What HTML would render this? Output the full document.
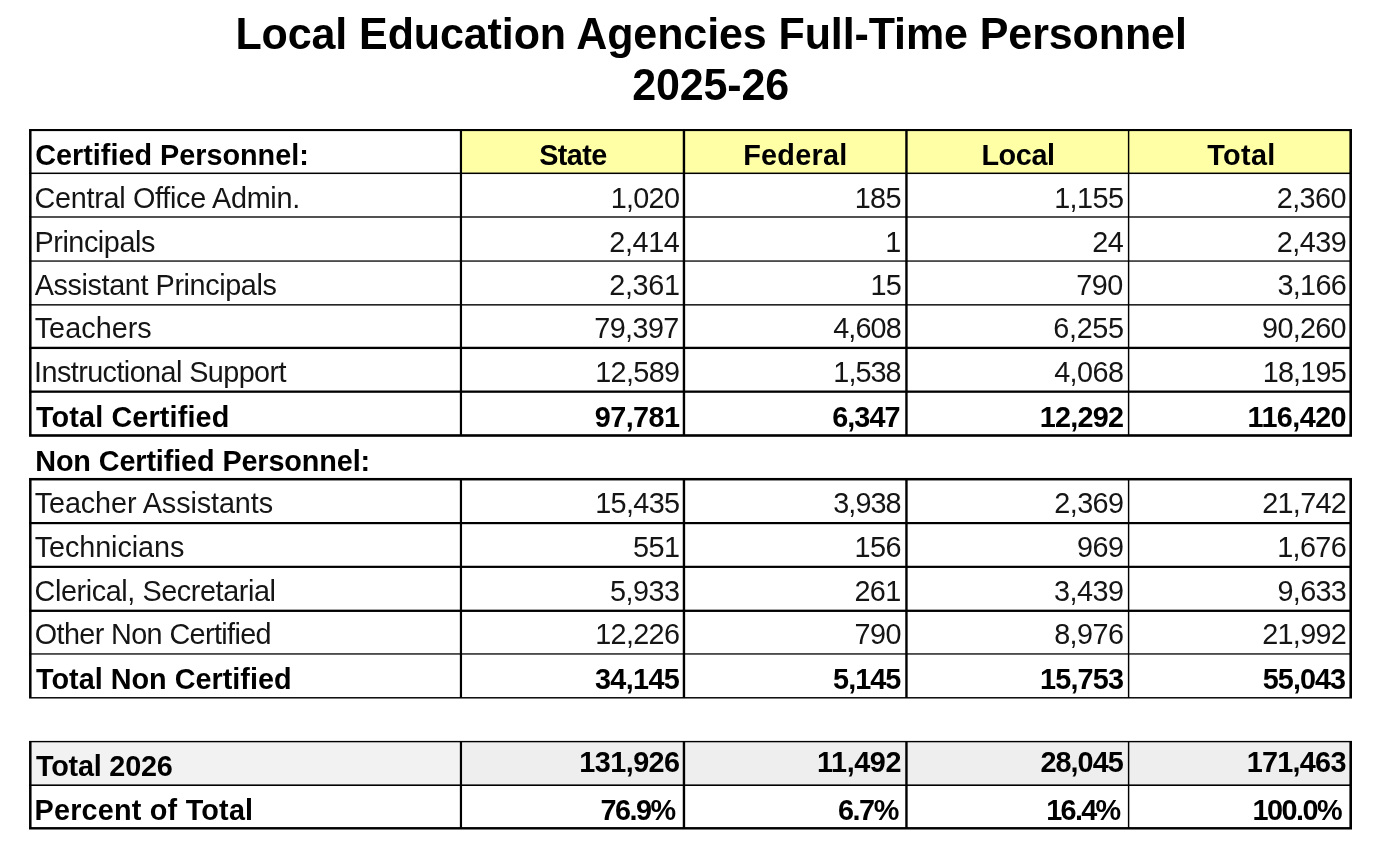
<!DOCTYPE html>
<html lang="en">
<head>
<meta charset="utf-8">
<title>Local Education Agencies Full-Time Personnel 2025-26</title>
<style>
html,body{margin:0;padding:0;background:#fff;}
body{width:1386px;height:844px;position:relative;overflow:hidden;font-family:"Liberation Sans",Arial,Helvetica,sans-serif;color:#000;}
svg{position:absolute;left:0;top:0;}
.t{position:absolute;line-height:1;white-space:nowrap;display:block;transform:scaleY(1.04) translateZ(0);transform-origin:0 84.65%;}
</style>
</head>
<body>
<svg width="1386" height="844" viewBox="0 0 1386 844">
<rect x="460.95" y="130.05" width="889.75" height="43.25" fill="#FFFFA6"/>
<rect x="30.30" y="741.60" width="430.65" height="43.60" fill="#F2F2F2"/>
<rect x="460.95" y="741.60" width="889.75" height="43.60" fill="#EEEEEE"/>
<rect x="29.05" y="129.00" width="1322.95" height="2.10" fill="#000"/>
<rect x="29.05" y="172.55" width="1322.95" height="1.50" fill="#000"/>
<rect x="29.05" y="216.32" width="1322.95" height="1.35" fill="#000"/>
<rect x="29.05" y="260.40" width="1322.95" height="1.30" fill="#000"/>
<rect x="29.05" y="304.15" width="1322.95" height="1.40" fill="#000"/>
<rect x="29.05" y="346.75" width="1322.95" height="2.30" fill="#000"/>
<rect x="29.05" y="390.50" width="1322.95" height="2.30" fill="#000"/>
<rect x="29.05" y="434.20" width="1322.95" height="2.60" fill="#000"/>
<rect x="29.05" y="130.05" width="2.50" height="305.45" fill="#000"/>
<rect x="459.85" y="130.05" width="2.20" height="305.45" fill="#000"/>
<rect x="682.75" y="130.05" width="2.40" height="305.45" fill="#000"/>
<rect x="905.25" y="130.05" width="2.40" height="305.45" fill="#000"/>
<rect x="1127.88" y="130.05" width="1.45" height="305.45" fill="#000"/>
<rect x="1349.40" y="130.05" width="2.60" height="305.45" fill="#000"/>
<rect x="29.05" y="477.95" width="1322.95" height="2.50" fill="#000"/>
<rect x="29.05" y="522.00" width="1322.95" height="2.20" fill="#000"/>
<rect x="29.05" y="565.75" width="1322.95" height="2.20" fill="#000"/>
<rect x="29.05" y="609.65" width="1322.95" height="2.30" fill="#000"/>
<rect x="29.05" y="653.30" width="1322.95" height="1.30" fill="#000"/>
<rect x="29.05" y="697.07" width="1322.95" height="1.45" fill="#000"/>
<rect x="29.05" y="479.20" width="2.50" height="218.60" fill="#000"/>
<rect x="459.85" y="479.20" width="2.20" height="218.60" fill="#000"/>
<rect x="682.75" y="479.20" width="2.40" height="218.60" fill="#000"/>
<rect x="905.25" y="479.20" width="2.40" height="218.60" fill="#000"/>
<rect x="1127.88" y="479.20" width="1.45" height="218.60" fill="#000"/>
<rect x="1349.40" y="479.20" width="2.60" height="218.60" fill="#000"/>
<rect x="29.05" y="740.90" width="1322.95" height="1.40" fill="#000"/>
<rect x="29.05" y="784.40" width="1322.95" height="1.60" fill="#000"/>
<rect x="29.05" y="827.07" width="1322.95" height="2.45" fill="#000"/>
<rect x="29.05" y="741.60" width="2.50" height="86.70" fill="#000"/>
<rect x="459.85" y="741.60" width="2.20" height="86.70" fill="#000"/>
<rect x="682.75" y="741.60" width="2.40" height="86.70" fill="#000"/>
<rect x="905.25" y="741.60" width="2.40" height="86.70" fill="#000"/>
<rect x="1127.88" y="741.60" width="1.45" height="86.70" fill="#000"/>
<rect x="1349.40" y="741.60" width="2.60" height="86.70" fill="#000"/>
</svg>
<span class="t" id="t1" style="font-size:43px;font-weight:bold;letter-spacing:-0.100px;top:13.00px;left:11.08px;width:1400px;text-align:center;">Local Education Agencies Full-Time Personnel</span>
<span class="t" id="t2" style="font-size:43px;font-weight:bold;letter-spacing:-0.167px;top:64.00px;left:10.62px;width:1400px;text-align:center;">2025-26</span>
<span class="t" id="L0" style="font-size:28.8px;font-weight:bold;letter-spacing:-0.007px;top:141.00px;left:35.29px;">Certified Personnel:</span>
<span class="t" id="H0" style="font-size:28.8px;font-weight:bold;letter-spacing:-0.595px;top:141.00px;left:-127.14px;width:1400px;text-align:center;">State</span>
<span class="t" id="H1" style="font-size:28.8px;font-weight:bold;letter-spacing:0.267px;top:141.00px;left:95.38px;width:1400px;text-align:center;">Federal</span>
<span class="t" id="H2" style="font-size:28.8px;font-weight:bold;letter-spacing:-0.374px;top:141.00px;left:318.05px;width:1400px;text-align:center;">Local</span>
<span class="t" id="H3" style="font-size:28.8px;font-weight:bold;letter-spacing:0.333px;top:141.00px;left:541.48px;width:1400px;text-align:center;">Total</span>
<span class="t" id="L1" style="font-size:28.8px;color:#151515;letter-spacing:-0.302px;top:184.00px;left:34.61px;">Central Office Admin.</span>
<span class="t" id="N1_0" style="font-size:28.8px;color:#151515;letter-spacing:-0.745px;top:184.00px;right:706.83px;">1,020</span>
<span class="t" id="N1_1" style="font-size:28.8px;color:#151515;letter-spacing:-0.550px;top:184.00px;right:484.95px;">185</span>
<span class="t" id="N1_2" style="font-size:28.8px;color:#151515;letter-spacing:-0.551px;top:184.00px;right:262.55px;">1,155</span>
<span class="t" id="N1_3" style="font-size:28.8px;color:#151515;letter-spacing:-0.575px;top:184.00px;right:40.07px;">2,360</span>
<span class="t" id="L2" style="font-size:28.8px;color:#151515;letter-spacing:-0.444px;top:228.00px;left:34.48px;">Principals</span>
<span class="t" id="N2_0" style="font-size:28.8px;color:#151515;letter-spacing:-0.403px;top:228.00px;right:706.64px;">2,414</span>
<span class="t" id="N2_1" style="font-size:28.8px;color:#151515;letter-spacing:-0.550px;top:228.00px;right:485.20px;">1</span>
<span class="t" id="N2_2" style="font-size:28.8px;color:#151515;letter-spacing:-0.550px;top:228.00px;right:262.72px;">24</span>
<span class="t" id="N2_3" style="font-size:28.8px;color:#151515;letter-spacing:-0.529px;top:228.00px;right:39.84px;">2,439</span>
<span class="t" id="L3" style="font-size:28.8px;color:#151515;letter-spacing:-0.401px;top:271.00px;left:34.80px;">Assistant Principals</span>
<span class="t" id="N3_0" style="font-size:28.8px;color:#151515;letter-spacing:-0.356px;top:271.00px;right:706.41px;">2,361</span>
<span class="t" id="N3_1" style="font-size:28.8px;color:#151515;letter-spacing:-0.550px;top:271.00px;right:484.66px;">15</span>
<span class="t" id="N3_2" style="font-size:28.8px;color:#151515;letter-spacing:-0.550px;top:271.00px;right:263.39px;">790</span>
<span class="t" id="N3_3" style="font-size:28.8px;color:#151515;letter-spacing:-0.707px;top:271.00px;right:39.98px;">3,166</span>
<span class="t" id="L4" style="font-size:28.8px;color:#151515;letter-spacing:0.033px;top:314.00px;left:34.70px;">Teachers</span>
<span class="t" id="N4_0" style="font-size:28.8px;color:#151515;letter-spacing:-0.609px;top:314.00px;right:707.28px;">79,397</span>
<span class="t" id="N4_1" style="font-size:28.8px;color:#151515;letter-spacing:-0.867px;top:314.00px;right:485.15px;">4,608</span>
<span class="t" id="N4_2" style="font-size:28.8px;color:#151515;letter-spacing:-0.354px;top:314.00px;right:262.35px;">6,255</span>
<span class="t" id="N4_3" style="font-size:28.8px;color:#151515;letter-spacing:-0.744px;top:314.00px;right:40.28px;">90,260</span>
<span class="t" id="L5" style="font-size:28.8px;color:#151515;letter-spacing:-0.582px;top:358.00px;left:34.08px;">Instructional Support</span>
<span class="t" id="N5_0" style="font-size:28.8px;color:#151515;letter-spacing:-0.664px;top:358.00px;right:706.66px;">12,589</span>
<span class="t" id="N5_1" style="font-size:28.8px;color:#151515;letter-spacing:-0.950px;top:358.00px;right:485.37px;">1,538</span>
<span class="t" id="N5_2" style="font-size:28.8px;color:#151515;letter-spacing:-0.547px;top:358.00px;right:262.55px;">4,068</span>
<span class="t" id="N5_3" style="font-size:28.8px;color:#151515;letter-spacing:-0.822px;top:358.00px;right:40.11px;">18,195</span>
<span class="t" id="L6" style="font-size:28.8px;font-weight:bold;letter-spacing:0.131px;top:403.00px;left:35.98px;">Total Certified</span>
<span class="t" id="N6_0" style="font-size:28.8px;font-weight:bold;letter-spacing:-0.587px;top:403.00px;right:706.64px;">97,781</span>
<span class="t" id="N6_1" style="font-size:28.8px;font-weight:bold;letter-spacing:-0.950px;top:403.00px;right:486.48px;">6,347</span>
<span class="t" id="N6_2" style="font-size:28.8px;font-weight:bold;letter-spacing:-0.768px;top:403.00px;right:262.77px;">12,292</span>
<span class="t" id="N6_3" style="font-size:28.8px;font-weight:bold;letter-spacing:-0.567px;top:403.00px;right:39.95px;">116,420</span>
<span class="t" id="L7" style="font-size:28.8px;font-weight:bold;letter-spacing:-0.115px;top:447.00px;left:35.21px;">Non Certified Personnel:</span>
<span class="t" id="L8" style="font-size:28.8px;color:#151515;letter-spacing:-0.102px;top:489.00px;left:34.70px;">Teacher Assistants</span>
<span class="t" id="N8_0" style="font-size:28.8px;color:#151515;letter-spacing:-0.649px;top:489.00px;right:706.57px;">15,435</span>
<span class="t" id="N8_1" style="font-size:28.8px;color:#151515;letter-spacing:-0.941px;top:489.00px;right:485.36px;">3,938</span>
<span class="t" id="N8_2" style="font-size:28.8px;color:#151515;letter-spacing:-0.606px;top:489.00px;right:262.61px;">2,369</span>
<span class="t" id="N8_3" style="font-size:28.8px;color:#151515;letter-spacing:-0.696px;top:489.00px;right:39.91px;">21,742</span>
<span class="t" id="L9" style="font-size:28.8px;color:#151515;letter-spacing:-0.083px;top:533.00px;left:34.70px;">Technicians</span>
<span class="t" id="N9_0" style="font-size:28.8px;color:#151515;letter-spacing:-0.550px;top:533.00px;right:706.60px;">551</span>
<span class="t" id="N9_1" style="font-size:28.8px;color:#151515;letter-spacing:-0.550px;top:533.00px;right:485.06px;">156</span>
<span class="t" id="N9_2" style="font-size:28.8px;color:#151515;letter-spacing:-0.550px;top:533.00px;right:262.55px;">969</span>
<span class="t" id="N9_3" style="font-size:28.8px;color:#151515;letter-spacing:-0.637px;top:533.00px;right:39.91px;">1,676</span>
<span class="t" id="L10" style="font-size:28.8px;color:#151515;letter-spacing:-0.417px;top:577.00px;left:34.61px;">Clerical, Secretarial</span>
<span class="t" id="N10_0" style="font-size:28.8px;color:#151515;letter-spacing:-0.517px;top:577.00px;right:706.57px;">5,933</span>
<span class="t" id="N10_1" style="font-size:28.8px;color:#151515;letter-spacing:-0.550px;top:577.00px;right:485.20px;">261</span>
<span class="t" id="N10_2" style="font-size:28.8px;color:#151515;letter-spacing:-0.517px;top:577.00px;right:262.52px;">3,439</span>
<span class="t" id="N10_3" style="font-size:28.8px;color:#151515;letter-spacing:-0.658px;top:577.00px;right:39.77px;">9,633</span>
<span class="t" id="L11" style="font-size:28.8px;color:#151515;letter-spacing:-0.630px;top:620.00px;left:34.84px;">Other Non Certified</span>
<span class="t" id="N11_0" style="font-size:28.8px;color:#151515;letter-spacing:-0.682px;top:620.00px;right:706.77px;">12,226</span>
<span class="t" id="N11_1" style="font-size:28.8px;color:#151515;letter-spacing:-0.550px;top:620.00px;right:485.09px;">790</span>
<span class="t" id="N11_2" style="font-size:28.8px;color:#151515;letter-spacing:-0.544px;top:620.00px;right:262.54px;">8,976</span>
<span class="t" id="N11_3" style="font-size:28.8px;color:#151515;letter-spacing:-0.696px;top:620.00px;right:39.91px;">21,992</span>
<span class="t" id="L12" style="font-size:28.8px;font-weight:bold;letter-spacing:0.009px;top:665.00px;left:35.98px;">Total Non Certified</span>
<span class="t" id="N12_0" style="font-size:28.8px;font-weight:bold;letter-spacing:-0.647px;top:665.00px;right:706.88px;">34,145</span>
<span class="t" id="N12_1" style="font-size:28.8px;font-weight:bold;letter-spacing:-0.950px;top:665.00px;right:485.62px;">5,145</span>
<span class="t" id="N12_2" style="font-size:28.8px;font-weight:bold;letter-spacing:-0.827px;top:665.00px;right:262.83px;">15,753</span>
<span class="t" id="N12_3" style="font-size:28.8px;font-weight:bold;letter-spacing:-0.950px;top:665.00px;right:40.84px;">55,043</span>
<span class="t" id="L14" style="font-size:28.8px;font-weight:bold;letter-spacing:-0.217px;top:752.00px;left:36.01px;">Total 2026</span>
<span class="t" id="N14_0" style="font-size:28.8px;font-weight:bold;letter-spacing:-0.559px;top:748.00px;right:706.48px;">131,926</span>
<span class="t" id="N14_1" style="font-size:28.8px;font-weight:bold;letter-spacing:-0.424px;top:748.00px;right:484.95px;">11,492</span>
<span class="t" id="N14_2" style="font-size:28.8px;font-weight:bold;letter-spacing:-0.950px;top:748.00px;right:263.21px;">28,045</span>
<span class="t" id="N14_3" style="font-size:28.8px;font-weight:bold;letter-spacing:-0.744px;top:748.00px;right:40.34px;">171,463</span>
<span class="t" id="L15" style="font-size:28.8px;font-weight:bold;letter-spacing:0.211px;top:796.00px;left:34.49px;">Percent of Total</span>
<span class="t" id="N15_0" style="font-size:28.8px;font-weight:bold;letter-spacing:-1.541px;top:796.00px;right:711.49px;">76.9%</span>
<span class="t" id="N15_1" style="font-size:28.8px;font-weight:bold;letter-spacing:-1.423px;top:796.00px;right:488.17px;">6.7%</span>
<span class="t" id="N15_2" style="font-size:28.8px;font-weight:bold;letter-spacing:-1.721px;top:796.00px;right:266.62px;">16.4%</span>
<span class="t" id="N15_3" style="font-size:28.8px;font-weight:bold;letter-spacing:-1.499px;top:796.00px;right:44.80px;">100.0%</span>
</body>
</html>
